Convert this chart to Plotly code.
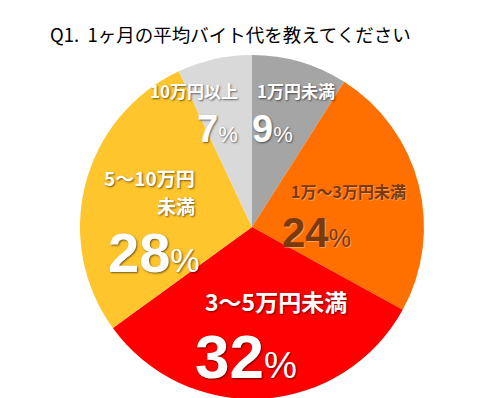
import plotly.graph_objects as go

categories = ["1万円未満", "1万～3万円未満", "3～5万円未満", "5～10万円未満", "10万円以上"]
values = [9, 24, 32, 28, 7]
colors = ["#A5A5A5", "#FF7000", "#FF0000", "#FFC52D", "#D9D9D9"]
title_text = "Q1.  1ヶ月の平均バイト代を教えてください"

W, H = 491, 398
cx, cy, r = 244, 219, 172

fig = go.Figure(go.Pie(
    labels=categories, values=values, sort=False, direction="clockwise",
    rotation=0, marker=dict(colors=colors, line=dict(width=0)),
    textinfo="none", hoverinfo="label+percent", showlegend=False,
    domain=dict(x=[(cx - r) / W, (cx + r) / W], y=[(H - cy - r) / H, (H - cy + r) / H]),
))

JP = "Noto Sans CJK JP"
NUM = "Liberation Sans, Noto Sans CJK JP"
SH_W = "1px 1px 2px rgba(0,0,0,0.55)"
SH_B = "1px 1px 1px rgba(255,255,255,0.35)"

def ann(text, px, py, size, color, shadow, family=JP, xanchor="center"):
    fig.add_annotation(x=px / W, y=1 - py / H, xref="paper", yref="paper", text=text,
                       showarrow=False, xanchor=xanchor, yanchor="middle",
                       font=dict(family=family, size=size, color=color, weight="bold", shadow=shadow))

def pct(v, size):
    return f"{v}<span style='font-size:{int(size*0.6)}px;font-weight:normal'>%</span>"

# category labels
ann(categories[4], 186, 82, 17, "white", SH_W)
ann(categories[0], 288, 82, 17, "white", SH_W)
ann(categories[1], 340, 183, 16, "#7A3A0E", SH_B)
ann("5～10万円", 189, 170, 19, "white", SH_W, xanchor="right")
ann("未満", 189, 197, 19, "white", SH_W, xanchor="right")
ann(categories[2], 268, 293, 23, "white", SH_W)

# percentages
ann(pct(values[4], 38), 209, 121, 38, "white", SH_W, family=NUM)
ann(pct(values[0], 38), 264, 121, 38, "white", SH_W, family=NUM)
ann(pct(values[1], 42), 308, 224, 42, "#7A3A0E", SH_B, family=NUM)
ann(pct(values[3], 56), 146, 244, 56, "white", SH_W, family=NUM)
ann(pct(values[2], 62), 238, 348, 62, "white", SH_W, family=NUM)

fig.add_annotation(x=40 / W, y=1 - 26 / H, xref="paper", yref="paper", text=title_text,
                   showarrow=False, xanchor="left", yanchor="middle",
                   font=dict(family=JP, size=18.5, color="black"))

fig.update_layout(width=W, height=H, margin=dict(l=0, r=0, t=0, b=0),
                  paper_bgcolor="white", plot_bgcolor="white")
fig.write_html("out.html")
